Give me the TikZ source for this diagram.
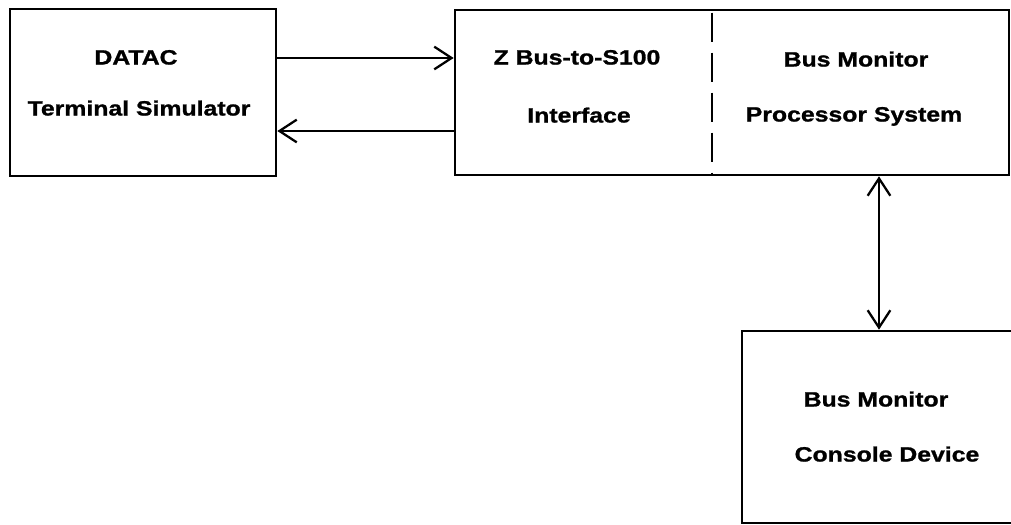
\documentclass[tikz,border=0pt]{standalone}
\usepackage{fontspec}
\newfontfamily\labfont[FakeStretch=1.2,FakeBold=1.2]{Liberation Sans}
\usetikzlibrary{arrows.meta}
\tikzset{
  blk/.style={draw, line width=2pt, inner sep=0pt},
  lbl/.style={font=\labfont\bfseries\fontsize{15.5}{18}\selectfont, inner sep=0pt, anchor=base},
  conn/.style={line width=1.7pt, arrows={-Straight Barb[length=13pt,width=17pt,line width=1.7pt]}},
  biconn/.style={line width=1.7pt, arrows={Straight Barb[length=13pt,width=17pt,line width=1.7pt]-Straight Barb[length=13pt,width=17pt,line width=1.7pt]}},
  divider/.style={line width=2pt, dash pattern=on 22pt off 8pt, dash phase=-2pt}
}
\begin{document}
\begin{tikzpicture}[x=0.75pt,y=-0.75pt]
\useasboundingbox (0,0) rectangle (1011,525);
\clip (0,0) rectangle (1011,525);
% boxes
\node[blk, minimum width=266*0.75pt, minimum height=167*0.75pt] (datac) at (143,92.5) {};
\node[blk, minimum width=554*0.75pt, minimum height=165*0.75pt] (box2) at (732,92.5) {};
\node[blk, minimum width=290*0.75pt, minimum height=192*0.75pt] (console) at (887,427) {};
% divider
\coordinate (dtop) at (712,10);
\coordinate (dbot) at (712,175);
\draw[divider] (dtop) -- (dbot);
% labels
\node[lbl] (t1) at (136,64.5) {DATAC};
\node[lbl] (t2) at (139,115.5) {Terminal Simulator};
\node[lbl] (t3) at (577,64.5) {Z Bus-to-S100};
\node[lbl] (t4) at (579,122.5) {Interface};
\node[lbl] (t5) at (856,66.5) {Bus Monitor};
\node[lbl] (t6) at (854,121.5) {Processor System};
\node[lbl] (t7) at (876,406.5) {Bus Monitor};
\node[lbl] (t8) at (887,461.5) {Console Device};
% connectors
\coordinate (ya) at (0,58);
\coordinate (yb) at (0,131);
\coordinate (xc) at (879,0);
\draw[conn] (datac.east |- ya) -- (box2.west |- ya);
\draw[conn] (box2.west |- yb) -- (datac.east |- yb);
\draw[biconn] (box2.south -| xc) -- (console.north -| xc);
\end{tikzpicture}
\end{document}
